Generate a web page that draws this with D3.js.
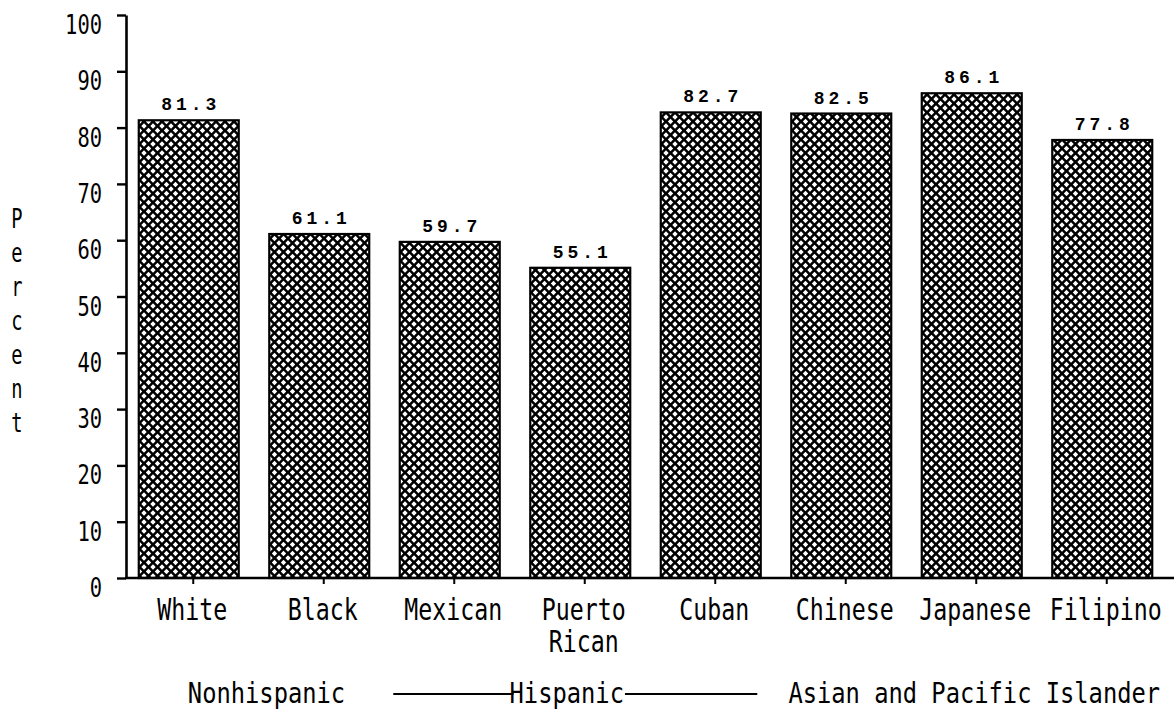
<!DOCTYPE html>
<html>
<head>
<meta charset="utf-8">
<script src="https://cdn.jsdelivr.net/npm/d3@7"></script>
<style>
  html, body { margin: 0; padding: 0; background: #fff; }
  svg { display: block; }
</style>
</head>
<body>
<svg id="chart" width="1174" height="711"></svg>
<script>
// ---- data ----
const categories = ["White", "Black", "Mexican", "Puerto Rican", "Cuban", "Chinese", "Japanese", "Filipino"];
const categoryLines = [["White"], ["Black"], ["Mexican"], ["Puerto", "Rican"], ["Cuban"], ["Chinese"], ["Japanese"], ["Filipino"]];
const values = [81.3, 61.1, 59.7, 55.1, 82.7, 82.5, 86.1, 77.8];
const valueLabels = ["81.3", "61.1", "59.7", "55.1", "82.7", "82.5", "86.1", "77.8"];
const yTicks = [0, 10, 20, 30, 40, 50, 60, 70, 80, 90, 100];
const yTitle = "Percent";
const groupNames = ["Nonhispanic", "Hispanic", "Asian and Pacific Islander"];
const groupFrom = ["White", "Mexican", "Chinese"];
const groupTo = ["Black", "Cuban", "Filipino"];

// ---- layout ----
const svg = d3.select("#chart");
const axisX = 126, baseY = 578, topY = 15, rightX = 1174;
const monoFont = "'DejaVu Sans Mono', 'Liberation Mono', monospace";

const x = d3.scaleBand().domain(categories).range([128, 1172]).paddingInner(0.234).paddingOuter(0.117);
const y = d3.scaleLinear().domain([0, 100]).range([baseY, topY]);
const center = c => x(c) + x.bandwidth() / 2;
const barShift = -4.5;

// narrow text helper: scale horizontally around the anchor point
function narrowText(g, tx, ty, str, size, sx, anchor) {
  return g.append("text")
    .attr("transform", `translate(${tx},${ty}) scale(${sx},1)`)
    .attr("text-anchor", anchor || "middle")
    .attr("font-family", monoFont)
    .attr("font-size", size)
    .attr("fill", "#000")
    .text(str);
}

// hatch pattern (crosshatch, white diamond holes)
const defs = svg.append("defs");
const p = 9;
const pat = defs.append("pattern").attr("id", "hatch").attr("patternUnits", "userSpaceOnUse")
  .attr("width", p).attr("height", p);
pat.append("rect").attr("width", p).attr("height", p).attr("fill", "#000");
const a = 2.7;
const diamond = (cx, cy) => `M${cx},${cy - a}L${cx + a},${cy}L${cx},${cy + a}L${cx - a},${cy}Z`;
pat.append("path").attr("fill", "#fff")
  .attr("d", [diamond(p / 2, p / 2), diamond(0, 0), diamond(p, 0), diamond(0, p), diamond(p, p)].join(""));

// bars
svg.append("g").selectAll("rect").data(values).join("rect")
  .attr("x", (d, i) => x(categories[i]) + barShift)
  .attr("y", d => y(d))
  .attr("width", x.bandwidth())
  .attr("height", d => y(0) - y(d))
  .attr("fill", "url(#hatch)")
  .attr("stroke", "#000")
  .attr("stroke-width", 2.2);

// value labels
svg.append("g").selectAll("text").data(values).join("text")
  .attr("x", (d, i) => center(categories[i]) + barShift)
  .attr("y", d => y(d) - 10)
  .attr("text-anchor", "middle")
  .attr("font-family", "'Liberation Mono', 'DejaVu Sans Mono', monospace")
  .attr("font-weight", "bold")
  .attr("font-size", 18)
  .attr("textLength", 55)
  .attr("lengthAdjust", "spacing")
  .text((d, i) => valueLabels[i]);

// y axis
const yAxis = svg.append("g").attr("transform", `translate(${axisX},0)`)
  .call(d3.axisLeft(y).tickValues(yTicks).tickSize(9).tickSizeOuter(0).tickFormat(d3.format("d")));
yAxis.select(".domain").attr("stroke", "#000").attr("stroke-width", 2.6);
yAxis.selectAll(".tick line").attr("stroke", "#000").attr("stroke-width", 2.4);
yAxis.selectAll(".tick text")
  .attr("x", null).attr("dy", null)
  .attr("transform", "translate(-24,18.5) scale(0.757,1)")
  .attr("fill", "#000")
  .attr("font-family", monoFont)
  .attr("font-size", 27)
  .attr("text-anchor", "end");

// x axis
const xAxis = svg.append("g").attr("transform", `translate(0,${baseY})`);
xAxis.append("line").attr("x1", axisX - 1).attr("x2", rightX).attr("y1", 0).attr("y2", 0)
  .attr("stroke", "#000").attr("stroke-width", 2.6);
xAxis.selectAll("line.tk").data(categories).join("line").attr("class", "tk")
  .attr("x1", d => center(d)).attr("x2", d => center(d))
  .attr("y1", 0).attr("y2", 6).attr("stroke", "#000").attr("stroke-width", 2);

// category labels
const catG = svg.append("g");
categories.forEach((c, i) => {
  categoryLines[i].forEach((line, j) => {
    narrowText(catG, center(c) - 1, 620 + j * 32, line, 30, 0.775);
  });
});

// y title (vertical letters)
const tG = svg.append("g");
yTitle.split("").forEach((ch, i) => {
  narrowText(tG, 17, 228 + i * 34, ch, 26, 0.72);
});

// group labels
const groupY = 703, cell = 14.3;
const gG = svg.append("g");
groupNames.forEach((g, i) => {
  const cx = (center(groupFrom[i]) + center(groupTo[i])) / 2;
  const w = g.length * cell;
  let tx = cx;
  if (i === 0) tx = cx + 8;
  if (i === 1) tx = cx - 18;
  if (i === 2) tx = cx - 2;
  narrowText(gG, tx, groupY, g, 29, 0.819);
  if (i === 1) {
    const l = center(groupFrom[i]) - 61, r = center(groupTo[i]) + 42;
    gG.append("line").attr("x1", l).attr("x2", tx - w / 2 + 4).attr("y1", groupY - 9).attr("y2", groupY - 9)
      .attr("stroke", "#000").attr("stroke-width", 2);
    gG.append("line").attr("x1", tx + w / 2 + 1).attr("x2", r).attr("y1", groupY - 9).attr("y2", groupY - 9)
      .attr("stroke", "#000").attr("stroke-width", 2);
  }
});
</script>
</body>
</html>
